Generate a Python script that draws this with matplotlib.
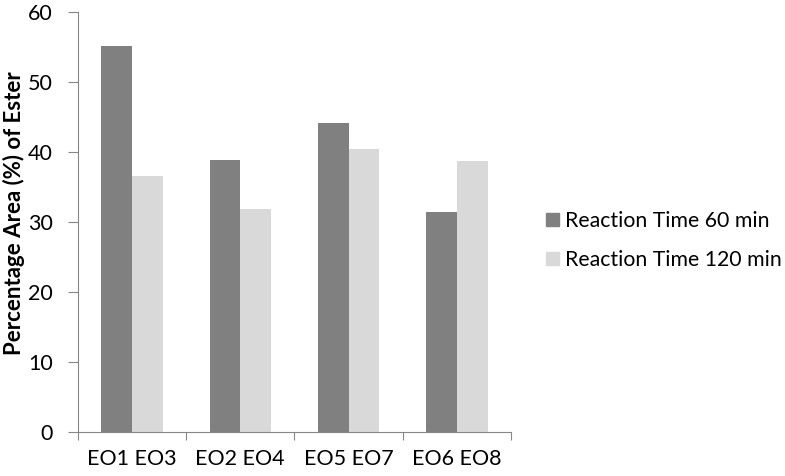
import numpy as np
import matplotlib
matplotlib.use("Agg")
import matplotlib.pyplot as plt
from matplotlib.patches import Patch

# datos
categorias = ["EO1 EO3", "EO2 EO4", "EO5 EO7", "EO6 EO8"]
tiempo_60 = [55.1, 38.9, 44.2, 31.4]
tiempo_120 = [36.5, 31.9, 40.4, 38.7]
series = ["Reaction Time 60 min", "Reaction Time 120 min"]
yticks = [0, 10, 20, 30, 40, 50, 60]

plt.rcParams['font.family'] = ['Lato', 'DejaVu Sans']

fig = plt.figure(figsize=(7.85, 4.76), dpi=100)
ax = fig.add_axes([0.099, 0.0924, 0.552, 0.8826])

x = np.arange(len(categorias))
ancho = 0.283
ax.bar(x - ancho / 2, tiempo_60, ancho, color='#808080')
ax.bar(x + ancho / 2, tiempo_120, ancho, color='#d9d9d9')

ax.set_xlim(-0.5, len(categorias) - 0.5)
ax.set_ylim(0, 60)
ax.set_yticks(yticks)
ax.tick_params(axis='y', length=7, color='#868686', labelsize=15.5, pad=11)

# marcas entre categorias en el eje x
ax.set_xticks(np.arange(len(categorias) + 1) - 0.5)
ax.set_xticklabels([])
ax.tick_params(axis='x', length=6, color='#868686')
ax.set_xticks(x, minor=True)
ax.tick_params(axis='x', which='minor', length=0, labelsize=15.5, pad=12)
ax.set_xticklabels(categorias, minor=True)

for lado in ['top', 'right']:
    ax.spines[lado].set_visible(False)
for lado in ['left', 'bottom']:
    ax.spines[lado].set_color('#868686')

ax.set_ylabel("Percentage Area (%) of Ester", fontsize=16, fontweight='bold')
ax.yaxis.set_label_coords(-0.148, 0.52)
ax.yaxis.label.set_va('center')

handles = [Patch(color='#808080'), Patch(color='#d9d9d9')]
fig.legend(handles, series, loc='center left', bbox_to_anchor=(0.696, 0.495),
           frameon=False, fontsize=15.3, handlelength=0.6, handleheight=0.6,
           handletextpad=0.3, labelspacing=0.9, borderpad=0, borderaxespad=0)

fig.savefig("out.png", dpi=100)
